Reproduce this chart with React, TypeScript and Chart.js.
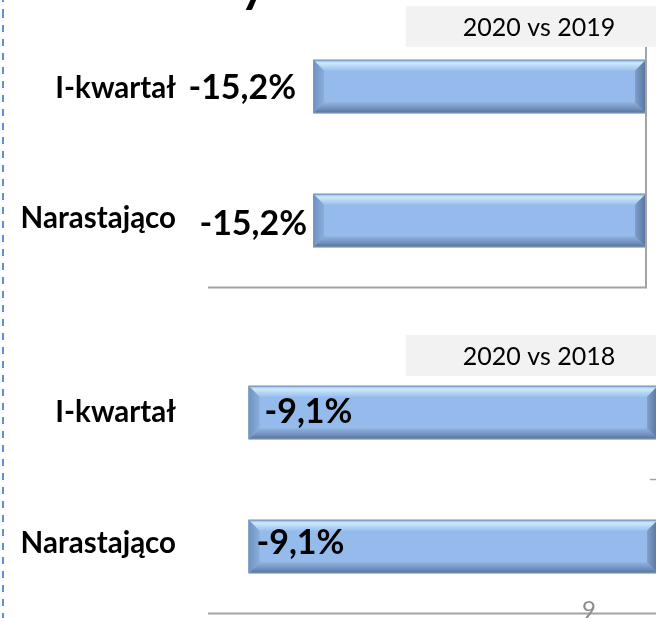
import React, { useEffect, useRef } from 'react';
import { Chart, registerables } from 'chart.js';

Chart.register(...registerables);

// ---- data ----
const categories = ['I-kwartał', 'Narastająco'];
const values2019 = [-15.2, -15.2];
const values2018 = [-9.1, -9.1];
const title2019 = '2020 vs 2019';
const title2018 = '2020 vs 2018';
const axisMin2019 = -20;
const axisMin2018 = -10;
const pageNumber = '9';
const partialTitle = 'y';

const fmt = (v: number) => v.toFixed(1).replace('.', ',') + '%';

const FONT = "Lato, 'Open Sans', 'Liberation Sans', sans-serif";

function poly(ctx: CanvasRenderingContext2D, pts: number[][], fill: CanvasGradient | string) {
  ctx.beginPath();
  ctx.moveTo(pts[0][0], pts[0][1]);
  for (let i = 1; i < pts.length; i++) ctx.lineTo(pts[i][0], pts[i][1]);
  ctx.closePath();
  ctx.fillStyle = fill;
  ctx.fill();
}

function bevel(ctx: CanvasRenderingContext2D, l: number, t: number, r: number, b: number) {
  const w = 11;
  ctx.save();
  let g = ctx.createLinearGradient(0, t, 0, t + w);
  g.addColorStop(0, '#88aad6');
  g.addColorStop(0.3, '#cfeafc');
  g.addColorStop(0.65, '#b2d5f6');
  g.addColorStop(1, '#9cc1ee');
  poly(ctx, [[l, t], [r, t], [r - w, t + w], [l + w, t + w]], g);
  g = ctx.createLinearGradient(0, b - w, 0, b);
  g.addColorStop(0, '#8fb2df');
  g.addColorStop(0.55, '#7393be');
  g.addColorStop(1, '#546f95');
  poly(ctx, [[l, b], [r, b], [r - w, b - w], [l + w, b - w]], g);
  g = ctx.createLinearGradient(l, 0, l + w, 0);
  g.addColorStop(0, '#6f92c1');
  g.addColorStop(1, '#8aaedc');
  poly(ctx, [[l, t], [l + w, t + w], [l + w, b - w], [l, b]], g);
  g = ctx.createLinearGradient(r - w, 0, r, 0);
  g.addColorStop(0, '#809fca');
  g.addColorStop(1, '#55729a');
  poly(ctx, [[r, t], [r - w, t + w], [r - w, b - w], [r, b]], g);
  ctx.strokeStyle = '#7898c2';
  ctx.lineWidth = 1;
  ctx.strokeRect(l + 0.5, t + 0.5, r - l - 1, b - t - 1);
  ctx.restore();
}

const decoPlugin = {
  id: 'deco',
  afterDatasetsDraw(chart: any, _args: any, opts: any) {
    const ctx: CanvasRenderingContext2D = chart.ctx;
    const meta = chart.getDatasetMeta(0);
    const values: number[] = chart.data.datasets[0].data;
    meta.data.forEach((el: any, i: number) => {
      const p = el.getProps(['x', 'y', 'base', 'height'], true);
      const l = Math.min(p.x, p.base);
      const r = Math.max(p.x, p.base);
      const t = p.y - p.height / 2;
      const b = p.y + p.height / 2;
      bevel(ctx, l, t, r, b);
      ctx.save();
      ctx.font = `bold 34px ${FONT}`;
      ctx.fillStyle = '#000';
      ctx.textBaseline = 'middle';
      const dx = opts.labelDx[i];
      const dy = opts.labelDy[i];
      if (opts.labelMode === 'outside') {
        ctx.textAlign = 'right';
        ctx.fillText(fmt(values[i]), l - dx, p.y + dy);
      } else {
        ctx.textAlign = 'left';
        ctx.fillText(fmt(values[i]), l + dx, p.y + dy);
      }
      ctx.restore();
    });
  },
  afterDraw(chart: any, _args: any, opts: any) {
    const ctx: CanvasRenderingContext2D = chart.ctx;
    const area = chart.chartArea;
    const xs = chart.scales.x;
    const ys = chart.scales.y;
    const zeroX = xs.getPixelForValue(0);
    ctx.save();
    ctx.strokeStyle = '#a3a3a3';
    ctx.lineWidth = 2;
    ctx.beginPath();
    ctx.moveTo(area.left, area.bottom);
    ctx.lineTo(zeroX + 1, area.bottom);
    ctx.moveTo(zeroX, area.top);
    ctx.lineTo(zeroX, area.bottom);
    ctx.stroke();
    if (opts.innerTick) {
      const yb = ys.getPixelForValue(0.5);
      ctx.lineWidth = 1.5;
      ctx.beginPath();
      ctx.moveTo(zeroX - 8, yb);
      ctx.lineTo(zeroX, yb);
      ctx.stroke();
    }
    ctx.font = `bold 29.5px ${FONT}`;
    ctx.fillStyle = '#000';
    ctx.textAlign = 'right';
    ctx.textBaseline = 'middle';
    chart.data.labels.forEach((lab: string, i: number) => {
      ctx.fillText(lab, opts.catX, ys.getPixelForValue(i) + opts.catDy[i]);
    });
    ctx.fillStyle = '#f2f2f2';
    ctx.fillRect(opts.boxLeft, opts.boxTop, chart.width - opts.boxLeft, opts.boxBottom - opts.boxTop);
    ctx.fillStyle = '#000';
    ctx.font = `25px ${FONT}`;
    ctx.textAlign = 'center';
    ctx.textBaseline = 'middle';
    ctx.fillText(opts.title, opts.boxTextX, (opts.boxTop + opts.boxBottom) / 2 + 1);
    if (opts.glyph) {
      ctx.font = `bold 50px ${FONT}`;
      ctx.textAlign = 'left';
      ctx.textBaseline = 'alphabetic';
      ctx.fillStyle = '#000';
      ctx.fillText(opts.glyph.text, opts.glyph.x, opts.glyph.y);
    }
    if (opts.page) {
      ctx.font = `24px ${FONT}`;
      ctx.textAlign = 'left';
      ctx.textBaseline = 'alphabetic';
      ctx.fillStyle = '#8c8c8c';
      ctx.fillText(opts.page.text, opts.page.x, opts.page.y);
    }
    ctx.restore();
  },
};

type PanelProps = {
  values: number[];
  min: number;
  top: number;
  width: number;
  height: number;
  padding: { left: number; right: number; top: number; bottom: number };
  deco: any;
};

function Panel({ values, min, top, width, height, padding, deco }: PanelProps) {
  const ref = useRef<HTMLCanvasElement | null>(null);
  useEffect(() => {
    if (!ref.current) return;
    const chart = new Chart(ref.current, {
      type: 'bar',
      data: {
        labels: categories,
        datasets: [
          {
            data: values,
            backgroundColor: '#95bbec',
            borderWidth: 0,
            barPercentage: 0.4,
            categoryPercentage: 1,
          },
        ],
      },
      options: {
        indexAxis: 'y',
        responsive: false,
        animation: false,
        events: [],
        layout: { padding },
        plugins: {
          legend: { display: false },
          tooltip: { enabled: false },
          // @ts-ignore
          deco,
        },
        scales: {
          x: { display: false, min, max: 0 },
          y: { display: false },
        },
      },
      plugins: [decoPlugin as any],
    });
    return () => chart.destroy();
  }, []);
  return (
    <canvas
      ref={ref}
      width={width}
      height={height}
      style={{ position: 'absolute', left: 0, top, width, height }}
    />
  );
}

export default function App() {
  return (
    <div
      style={{
        position: 'fixed',
        left: 0,
        top: 0,
        width: 656,
        height: 618,
        overflow: 'hidden',
        background: '#fff',
      }}
    >
      <div
        style={{
          position: 'absolute',
          left: 2,
          top: 0,
          width: 2,
          height: 618,
          backgroundImage: 'repeating-linear-gradient(to bottom, #5b8fd8 0px, #5b8fd8 7px, transparent 7px, transparent 14px)',
          backgroundPosition: '0 11px',
        }}
      />
      <Panel
        values={values2019}
        min={axisMin2019}
        top={0}
        width={656}
        height={300}
        padding={{ left: 208, right: 10, top: 19.5, bottom: 12.5 }}
        deco={{
          title: title2019,
          labelMode: 'outside',
          labelDx: [17, 6],
          labelDy: [1.5, 3.5],
          catX: 176,
          catDy: [2, -2],
          boxLeft: 406,
          boxTop: 6,
          boxBottom: 47,
          boxTextX: 539,
          innerTick: false,
          glyph: { text: partialTitle, x: 240, y: 2 },
        }}
      />
      <Panel
        values={values2018}
        min={axisMin2018}
        top={300}
        width={672}
        height={318}
        padding={{ left: 208, right: 14, top: 45.5, bottom: 4.5 }}
        deco={{
          title: title2018,
          labelMode: 'inside',
          labelDx: [16, 8],
          labelDy: [0, -3],
          catX: 176,
          catDy: [0, -3],
          boxLeft: 406,
          boxTop: 35,
          boxBottom: 76,
          boxTextX: 539,
          innerTick: true,
          page: { text: pageNumber, x: 582, y: 318 },
        }}
      />
    </div>
  );
}
